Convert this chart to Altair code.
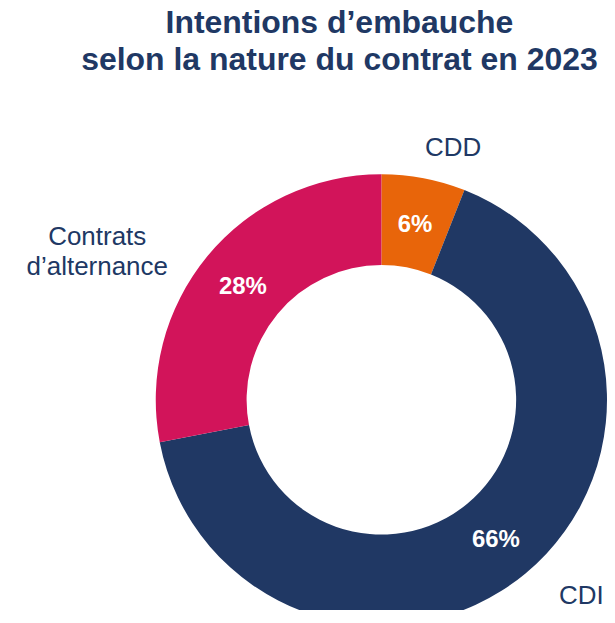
import altair as alt
import pandas as pd

categories = ["CDD", "CDI", "Contrats d’alternance"]
values = [6, 66, 28]
outer_labels = ["CDD", "CDI", "Contrats\nd’alternance"]
rank = [0, 1, 2]
colors = ["#E8650A", "#203864", "#D2145A"]

NAVY = "#203864"
FONT = "Liberation Sans"

df = pd.DataFrame({"categorie": categories, "valeur": values,
                   "etiquette": outer_labels, "rang": rank})

base = alt.Chart(df).transform_window(
    fin="sum(valeur)", sort=[alt.SortField("rang")], frame=[None, 0]
).transform_calculate(
    debut="datum.fin - datum.valeur",
    milieu="datum.fin - datum.valeur / 2",
    pct="datum.valeur + '%'",
)

theta_scale = alt.Scale(domain=[0, 100])

arcs = base.mark_arc(innerRadius=135, outerRadius=226).encode(
    theta=alt.Theta("debut:Q", scale=theta_scale, stack=None),
    theta2="fin:Q",
    color=alt.Color("categorie:N", scale=alt.Scale(domain=categories, range=colors), legend=None),
)

pct = base.mark_text(radius=180, dy=2, fontSize=24, fontWeight="bold", color="white",
                     font=FONT, align="center", baseline="middle").encode(
    theta=alt.Theta("milieu:Q", scale=theta_scale, stack=None),
    text="pct:N",
)

offsets = {"CDD": (25, -7), "CDI": (41, 4), "Contrats d’alternance": (-92, -4)}
outer_layers = []
for c in categories:
    dx, dy = offsets[c]
    outer_layers.append(
        base.transform_filter(alt.datum.categorie == c).mark_text(
            radius=250, dx=dx, dy=dy, fontSize=26, color=NAVY, font=FONT,
            align="center", baseline="middle", lineBreak="\n", lineHeight=30,
        ).encode(
            theta=alt.Theta("milieu:Q", scale=theta_scale, stack=None),
            text="etiquette:N",
        )
    )

chart = alt.layer(arcs, pct, *outer_layers).properties(
    width=430,
    height=400,
    padding={"left": 159, "top": 192, "right": 11, "bottom": 10},
    autosize=alt.AutoSizeParams(type="none"),
    title=alt.TitleParams(
        text=["Intentions d’embauche", "selon la nature du contrat en 2023"],
        fontSize=32, fontWeight="bold", color=NAVY, font=FONT,
        lineHeight=37, anchor="middle", frame="group", dx=-42,
        offset=26, baseline="bottom",
    ),
).configure_view(stroke=None)

chart.save("out.html", embed_options={"renderer": "svg", "actions": False})
